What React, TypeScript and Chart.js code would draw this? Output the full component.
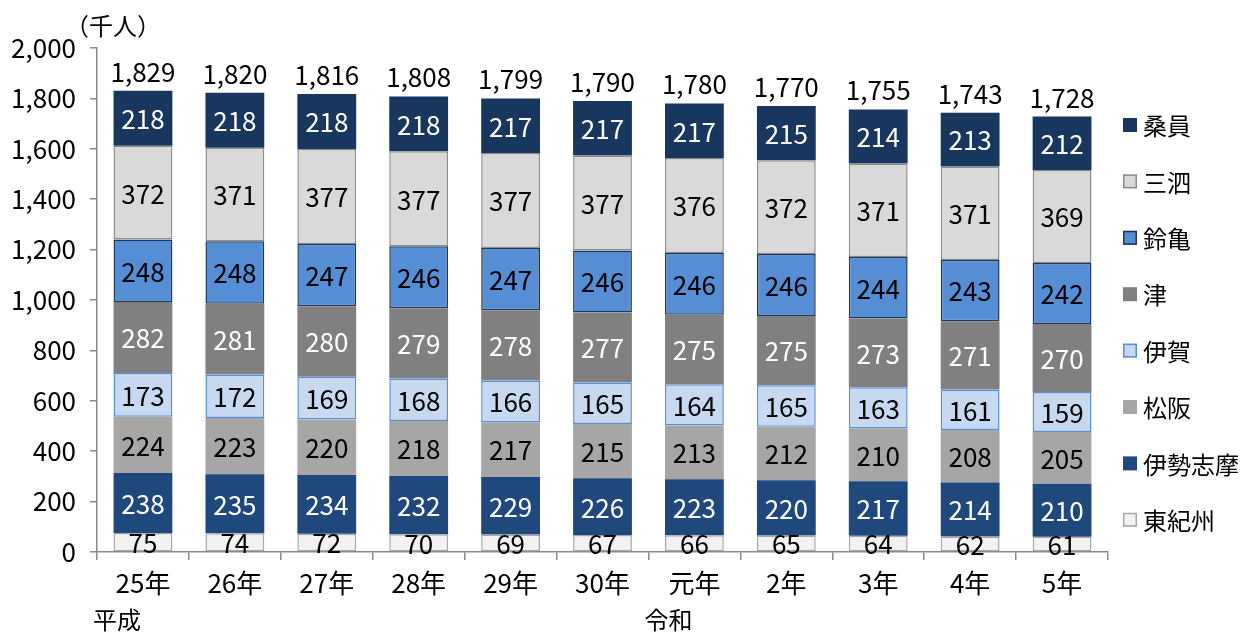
import React, { useEffect, useRef } from "react";
import { Chart, registerables } from "chart.js";

Chart.register(...registerables);

// ---- data ----
const categories = ["25年", "26年", "27年", "28年", "29年", "30年", "元年", "2年", "3年", "4年", "5年"];
const eraLabels = ["平成", "", "", "", "", "", "令和", "", "", "", ""];
const unitLabel = "（千人）";

const higashiKishu = [75, 74, 72, 70, 69, 67, 66, 65, 64, 62, 61];
const iseShima = [238, 235, 234, 232, 229, 226, 223, 220, 217, 214, 210];
const matsusaka = [224, 223, 220, 218, 217, 215, 213, 212, 210, 208, 205];
const iga = [173, 172, 169, 168, 166, 165, 164, 165, 163, 161, 159];
const tsu = [282, 281, 280, 279, 278, 277, 275, 275, 273, 271, 270];
const suzuka = [248, 248, 247, 246, 247, 246, 246, 246, 244, 243, 242];
const sanshi = [372, 371, 377, 377, 377, 377, 376, 372, 371, 371, 369];
const kuwana = [218, 218, 218, 218, 217, 217, 217, 215, 214, 213, 212];
const totals = [1829, 1820, 1816, 1808, 1799, 1790, 1780, 1770, 1755, 1743, 1728];

const NUM_FONT = '"Liberation Sans Narrow", "Noto Sans CJK JP", sans-serif';
const CJK_FONT = '"Noto Sans CJK JP", sans-serif';

const fmt = (v: number) => v.toLocaleString("en-US");

const seriesDefs = [
  { label: "東紀州", data: higashiKishu, bg: "#F2F2F2", border: "#A6A6A6", bw: 1.5, text: "#000000" },
  { label: "伊勢志摩", data: iseShima, bg: "#1F497D", border: "#1F497D", bw: 0, text: "#FFFFFF" },
  { label: "松阪", data: matsusaka, bg: "#A6A6A6", border: "#A6A6A6", bw: 0, text: "#000000" },
  { label: "伊賀", data: iga, bg: "#C6D9F1", border: "#558ED5", bw: 1.5, text: "#000000" },
  { label: "津", data: tsu, bg: "#808080", border: "#808080", bw: 0, text: "#FFFFFF" },
  { label: "鈴亀", data: suzuka, bg: "#558ED5", border: "#17375E", bw: 1.5, text: "#000000" },
  { label: "三泗", data: sanshi, bg: "#D9D9D9", border: "#8C8C8C", bw: 1.5, text: "#000000" },
  { label: "桑員", data: kuwana, bg: "#17375E", border: "#17375E", bw: 0, text: "#FFFFFF" },
];

const labelsPlugin = {
  id: "customLabels",
  afterDatasetsDraw(chart: any) {
    const ctx = chart.ctx;
    ctx.save();
    ctx.font = `26px ${NUM_FONT}`;
    ctx.textAlign = "center";
    ctx.textBaseline = "middle";
    chart.data.datasets.forEach((ds: any, i: number) => {
      const meta = chart.getDatasetMeta(i);
      meta.data.forEach((bar: any, j: number) => {
        const cy = (bar.y + bar.base) / 2;
        ctx.fillStyle = seriesDefs[i].text;
        ctx.fillText(String(ds.data[j]), bar.x, cy + 1);
      });
    });
    // totals
    const topMeta = chart.getDatasetMeta(chart.data.datasets.length - 1);
    ctx.fillStyle = "#000000";
    ctx.textBaseline = "alphabetic";
    topMeta.data.forEach((bar: any, j: number) => {
      ctx.fillText(fmt(totals[j]), bar.x, bar.y - 9);
    });
    ctx.restore();
  },
  afterDraw(chart: any) {
    const ctx = chart.ctx;
    const xs = chart.scales.x;
    ctx.save();
    // unit label
    ctx.font = `24px ${CJK_FONT}`;
    ctx.fillStyle = "#000000";
    ctx.textAlign = "center";
    ctx.textBaseline = "middle";
    ctx.fillText(unitLabel, chart.chartArea.left + 16, 26);
    // era labels
    eraLabels.forEach((t, i) => {
      if (!t) return;
      ctx.fillText(t, xs.getPixelForValue(i) - 26, 620);
    });
    // legend (reverse order)
    const n = chart.data.datasets.length;
    const legendX = chart.chartArea.right + 15;
    for (let k = 0; k < n; k++) {
      const i = n - 1 - k;
      const ds = chart.data.datasets[i];
      const cy = 125 + k * 56.4;
      ctx.fillStyle = ds.backgroundColor;
      ctx.fillRect(legendX, cy - 7, 14, 14);
      if (ds.borderWidth > 0) {
        ctx.strokeStyle = ds.borderColor;
        ctx.lineWidth = 1.5;
        ctx.strokeRect(legendX + 0.75, cy - 6.25, 12.5, 12.5);
      }
      ctx.fillStyle = "#000000";
      ctx.textAlign = "left";
      ctx.fillText(ds.label, legendX + 20, cy + 1);
    }
    ctx.restore();
  },
};

export default function App() {
  const ref = useRef<HTMLCanvasElement | null>(null);
  useEffect(() => {
    if (!ref.current) return;
    const chart = new Chart(ref.current, {
      type: "bar",
      data: {
        labels: categories,
        datasets: seriesDefs.map((s) => ({
          label: s.label,
          data: s.data,
          backgroundColor: s.bg,
          borderColor: s.border,
          borderWidth: s.bw,
          borderSkipped: false,
          barPercentage: 0.64,
          categoryPercentage: 1,
        })),
      },
      options: {
        animation: false,
        responsive: false,
        layout: { padding: { top: 48, right: 149, bottom: 0, left: 0 } },
        plugins: {
          legend: { display: false },
          tooltip: { enabled: false },
        },
        scales: {
          x: {
            stacked: true,
            grid: {
              offset: true,
              drawOnChartArea: false,
              drawTicks: true,
              tickLength: 8,
              color: "#898989",
              lineWidth: 1.5,
            },
            border: { display: true, color: "#898989", width: 1.5 },
            ticks: {
              color: "#000000",
              font: { size: 26, family: NUM_FONT },
              padding: 8,
              maxRotation: 0,
            },
            afterFit: (scale: any) => {
              scale.height = 81;
              scale.paddingLeft = 0;
              scale.paddingRight = 0;
            },
          },
          y: {
            stacked: true,
            min: 0,
            max: 2000,
            ticks: {
              stepSize: 200,
              color: "#000000",
              font: { size: 26, family: NUM_FONT },
              padding: 14,
              callback: (v: any) => fmt(Number(v)),
            },
            grid: {
              drawOnChartArea: false,
              drawTicks: true,
              tickLength: 7,
              color: "#898989",
              lineWidth: 1.5,
            },
            border: { display: true, color: "#898989", width: 1.5 },
            afterFit: (scale: any) => {
              scale.width = 97;
              scale.paddingTop = 0;
              scale.paddingBottom = 0;
            },
          },
        },
      },
      plugins: [labelsPlugin],
    });
    return () => chart.destroy();
  }, []);
  return (
    <div style={{ position: "absolute", left: 0, top: 0, width: 1257, height: 633, background: "#ffffff" }}>
      <canvas ref={ref} width={1257} height={633} style={{ display: "block" }} />
    </div>
  );
}
